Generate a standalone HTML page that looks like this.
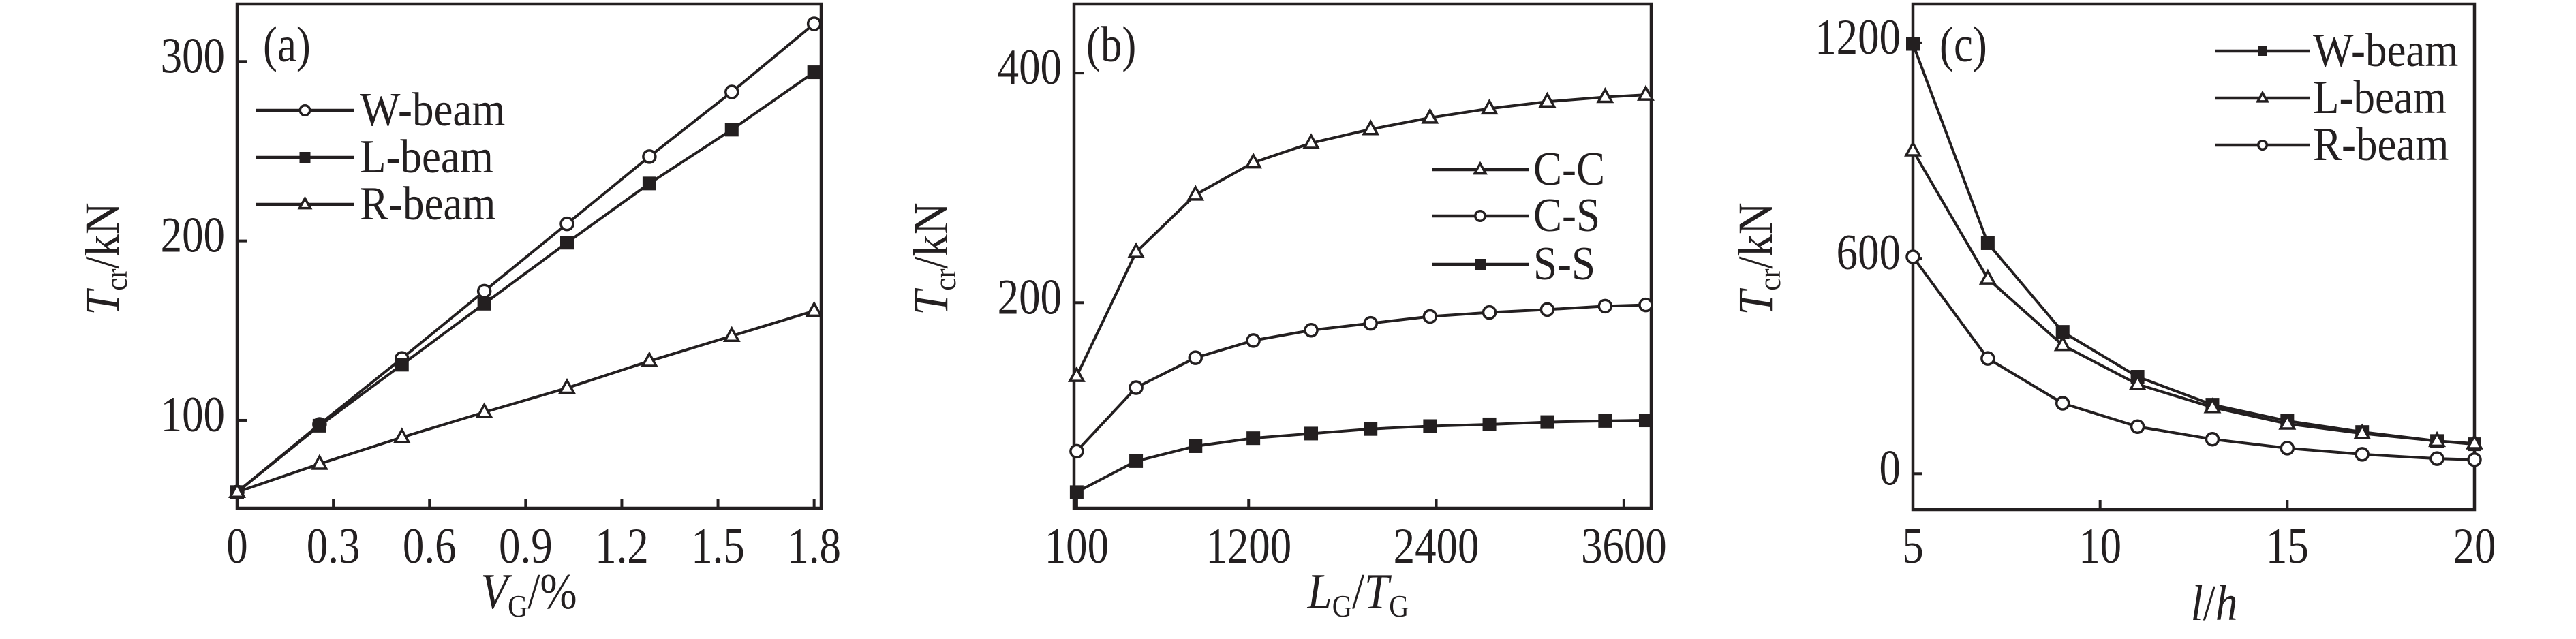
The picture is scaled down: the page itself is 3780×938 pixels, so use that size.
<!DOCTYPE html>
<html><head><meta charset="utf-8"><style>
html,body{margin:0;padding:0;background:#fff}
svg{display:block}
text{font-family:"Liberation Serif",serif;fill:#231f20}
</style></head><body>
<svg id="fig" xmlns="http://www.w3.org/2000/svg" width="3780" height="938" viewBox="0 0 3780 938"></svg>
<script>
// Panel (a)
const aX = [0, 0.257, 0.514, 0.771, 1.029, 1.286, 1.543, 1.8];
const aW = [60, 97.7, 134.5, 172, 209.5, 247, 283, 321];
const aL = [60, 97, 131, 165, 199, 232, 262, 294];
const aR = [60, 75.7, 90.5, 104.5, 118, 133, 147, 161];
const aXTicks = [0, 0.3, 0.6, 0.9, 1.2, 1.5, 1.8];
const aXTickLabels = ["0", "0.3", "0.6", "0.9", "1.2", "1.5", "1.8"];
const aYTicks = [100, 200, 300];
// Panel (b)
const bX = [100, 480, 860, 1230, 1600, 1980, 2360, 2740, 3110, 3480, 3740];
const bCC = [136, 244, 294, 322, 339, 351, 361, 369, 375, 379, 381];
const bCS = [70.6, 126, 152, 167, 176, 182, 188, 191.5, 194, 197, 198];
const bSS = [35, 62, 75, 82, 86, 90, 92.5, 94, 96, 97, 97.5];
const bXTicks = [100, 1200, 2400, 3600];
const bYTicks = [200, 400];
// Panel (c)
const cX = [5, 7, 9, 11, 13, 15, 17, 19, 20];
const cW = [1197, 642, 395, 270, 192, 147, 116, 91, 82];
const cL = [900, 543, 358, 249, 185, 139, 112, 91, 84];
const cR = [604, 321, 196, 131, 96, 71, 54, 42, 39];
const cXTicks = [5, 10, 15, 20];
const cYTicks = [0, 600, 1200];

const NS = "http://www.w3.org/2000/svg";
const svg = document.getElementById("fig");
function mk(tag, attrs, parent) {
  const e = document.createElementNS(NS, tag);
  for (const k in attrs) e.setAttribute(k, attrs[k]);
  (parent || svg).appendChild(e);
  return e;
}
function txt(parent, x, y, size, anchor, sx) {
  return mk("text", {x: 0, y: 0, "font-size": size, "text-anchor": anchor, transform: `translate(${x},${y}) scale(${sx},1)`}, parent);
}
function marker(g, type, x, y, s) {
  let m;
  if (type === "circle") m = mk("circle", {cx: x, cy: y, r: 9 * s, fill: "#fff", stroke: "#231f20", "stroke-width": 3.5}, g);
  else if (type === "square") m = mk("rect", {x: x - 10 * s, y: y - 10 * s, width: 20 * s, height: 20 * s, fill: "#231f20"}, g);
  else m = mk("path", {d: `M${x} ${y - 11 * s} L${x + 10 * s} ${y + 7 * s} L${x - 10 * s} ${y + 7 * s} Z`, fill: "#fff", stroke: "#231f20", "stroke-width": 3.5}, g);
  return m;
}
function panel(cfg) {
  const g = mk("g", {});
  
  
  const {L, R, T, B} = cfg;
  const sx = v => L + (v - cfg.x0) / (cfg.x1 - cfg.x0) * (R - L);
  const sy = v => B - (v - cfg.y0) / (cfg.y1 - cfg.y0) * (B - T);
  const frame = mk("rect", {x: L, y: T, width: R - L, height: B - T, fill: "none", stroke: "#231f20", "stroke-width": 4.5}, g);
  
  
  cfg.xTicks.forEach((v, i) => {
    const x = sx(v);
    const t = mk("line", {x1: x, x2: x, y1: B, y2: B - 14, stroke: "#231f20", "stroke-width": 4}, g);
    
    
    const lb = txt(g, x, 826, 74, "middle", 0.85);
    lb.textContent = cfg.xLabels ? cfg.xLabels[i] : String(v);
    
    
  });
  cfg.yTicks.forEach(v => {
    const y = sy(v);
    const t = mk("line", {x1: L, x2: L + 14, y1: y, y2: y, stroke: "#231f20", "stroke-width": 4}, g);
    
    
    const lb = txt(g, L - 18, y + 16, 74, "end", 0.85);
    lb.textContent = String(v);
    
    
  });
  cfg.series.forEach(s => {
    const sg = mk("g", {}, g);
    
    
    const pts = cfg.xs.map((xv, i) => sx(xv) + "," + sy(s.v[i])).join(" ");
    const pl = mk("polyline", {points: pts, fill: "none", stroke: "#231f20", "stroke-width": 4, "stroke-linejoin": "round"}, sg);
    
    
    cfg.xs.forEach((xv, i) => {
      const m = marker(sg, s.m, sx(xv), sy(s.v[i]), 1);
      
      
    });
  });
  const lg = mk("g", {}, g);
  
  
  cfg.series.forEach((s, i) => {
    const y = cfg.leg.y[i];
    const eg = mk("g", {}, lg);
    
    
    mk("line", {x1: cfg.leg.x1, x2: cfg.leg.x2, y1: y, y2: y, stroke: "#231f20", "stroke-width": 4.5}, eg);
    marker(eg, s.m, (cfg.leg.x1 + cfg.leg.x2) / 2, y, cfg.leg.ms);
    const tx = txt(eg, cfg.leg.tx, y + 22, 70, "start", 0.9);
    tx.textContent = s.label;
  });
  const pl = txt(g, cfg.lab[0], cfg.lab[1], 74, "start", 0.85);
  pl.textContent = cfg.labText;
  
  
  const yt = mk("text", {x: 0, y: 0, "font-size": 72, "text-anchor": "middle", transform: `translate(${cfg.yt[0]},${cfg.yt[1]}) rotate(-90) scale(0.9,1)`}, g);
  yt.innerHTML = '<tspan font-style="italic">T</tspan><tspan font-size="46" dy="12">cr</tspan><tspan dy="-12">/kN</tspan>';
  
  
  const xt = txt(g, cfg.xt[0], cfg.xt[1], 74, "middle", 0.88);
  xt.innerHTML = cfg.xtHtml;
  
  
}

panel({name: "panel-a", L: 348, R: 1205, T: 6, B: 746, x0: 0, x1: 1.822, y0: 51, y1: 332,
  xs: aX, xTicks: aXTicks, xLabels: aXTickLabels, yTicks: aYTicks,
  series: [{key: "w-beam", label: "W-beam", v: aW, m: "circle"},
           {key: "l-beam", label: "L-beam", v: aL, m: "square"},
           {key: "r-beam", label: "R-beam", v: aR, m: "triangle"}],
  leg: {x1: 375, x2: 520, tx: 528, y: [162, 231, 300], ms: 0.8},
  lab: [386, 90], labText: "(a)", yt: [174, 380],
  xtHtml: '<tspan font-style="italic">V</tspan><tspan font-size="46" dy="12">G</tspan><tspan dy="-12">/%</tspan>', xt: [776, 893]});

panel({name: "panel-b", L: 1576, R: 2423, T: 6, B: 746, x0: 83, x1: 3775, y0: 21, y1: 460,
  xs: bX, xTicks: bXTicks, yTicks: bYTicks,
  series: [{key: "c-c", label: "C-C", v: bCC, m: "triangle"},
           {key: "c-s", label: "C-S", v: bCS, m: "circle"},
           {key: "s-s", label: "S-S", v: bSS, m: "square"}],
  leg: {x1: 2101, x2: 2243, tx: 2250, y: [249, 317, 388], ms: 0.8},
  lab: [1594, 90], labText: "(b)", yt: [1390, 380],
  xtHtml: '<tspan font-style="italic">L</tspan><tspan font-size="46" dy="12">G</tspan><tspan dy="-12">/</tspan><tspan font-style="italic">T</tspan><tspan font-size="46" dy="12">G</tspan>', xt: [1993, 893]});

panel({name: "panel-c", L: 2807, R: 3631, T: 6, B: 748, x0: 5, x1: 20, y0: -100, y1: 1308,
  xs: cX, xTicks: cXTicks, yTicks: cYTicks,
  series: [{key: "w-beam", label: "W-beam", v: cW, m: "square"},
           {key: "l-beam", label: "L-beam", v: cL, m: "triangle"},
           {key: "r-beam", label: "R-beam", v: cR, m: "circle"}],
  leg: {x1: 3251, x2: 3389, tx: 3394, y: [75, 144, 213], ms: 0.7},
  lab: [2846, 90], labText: "(c)", yt: [2600, 380],
  xtHtml: '<tspan font-style="italic">l</tspan>/<tspan font-style="italic">h</tspan>', xt: [3249, 910]});
</script>
</body></html>
